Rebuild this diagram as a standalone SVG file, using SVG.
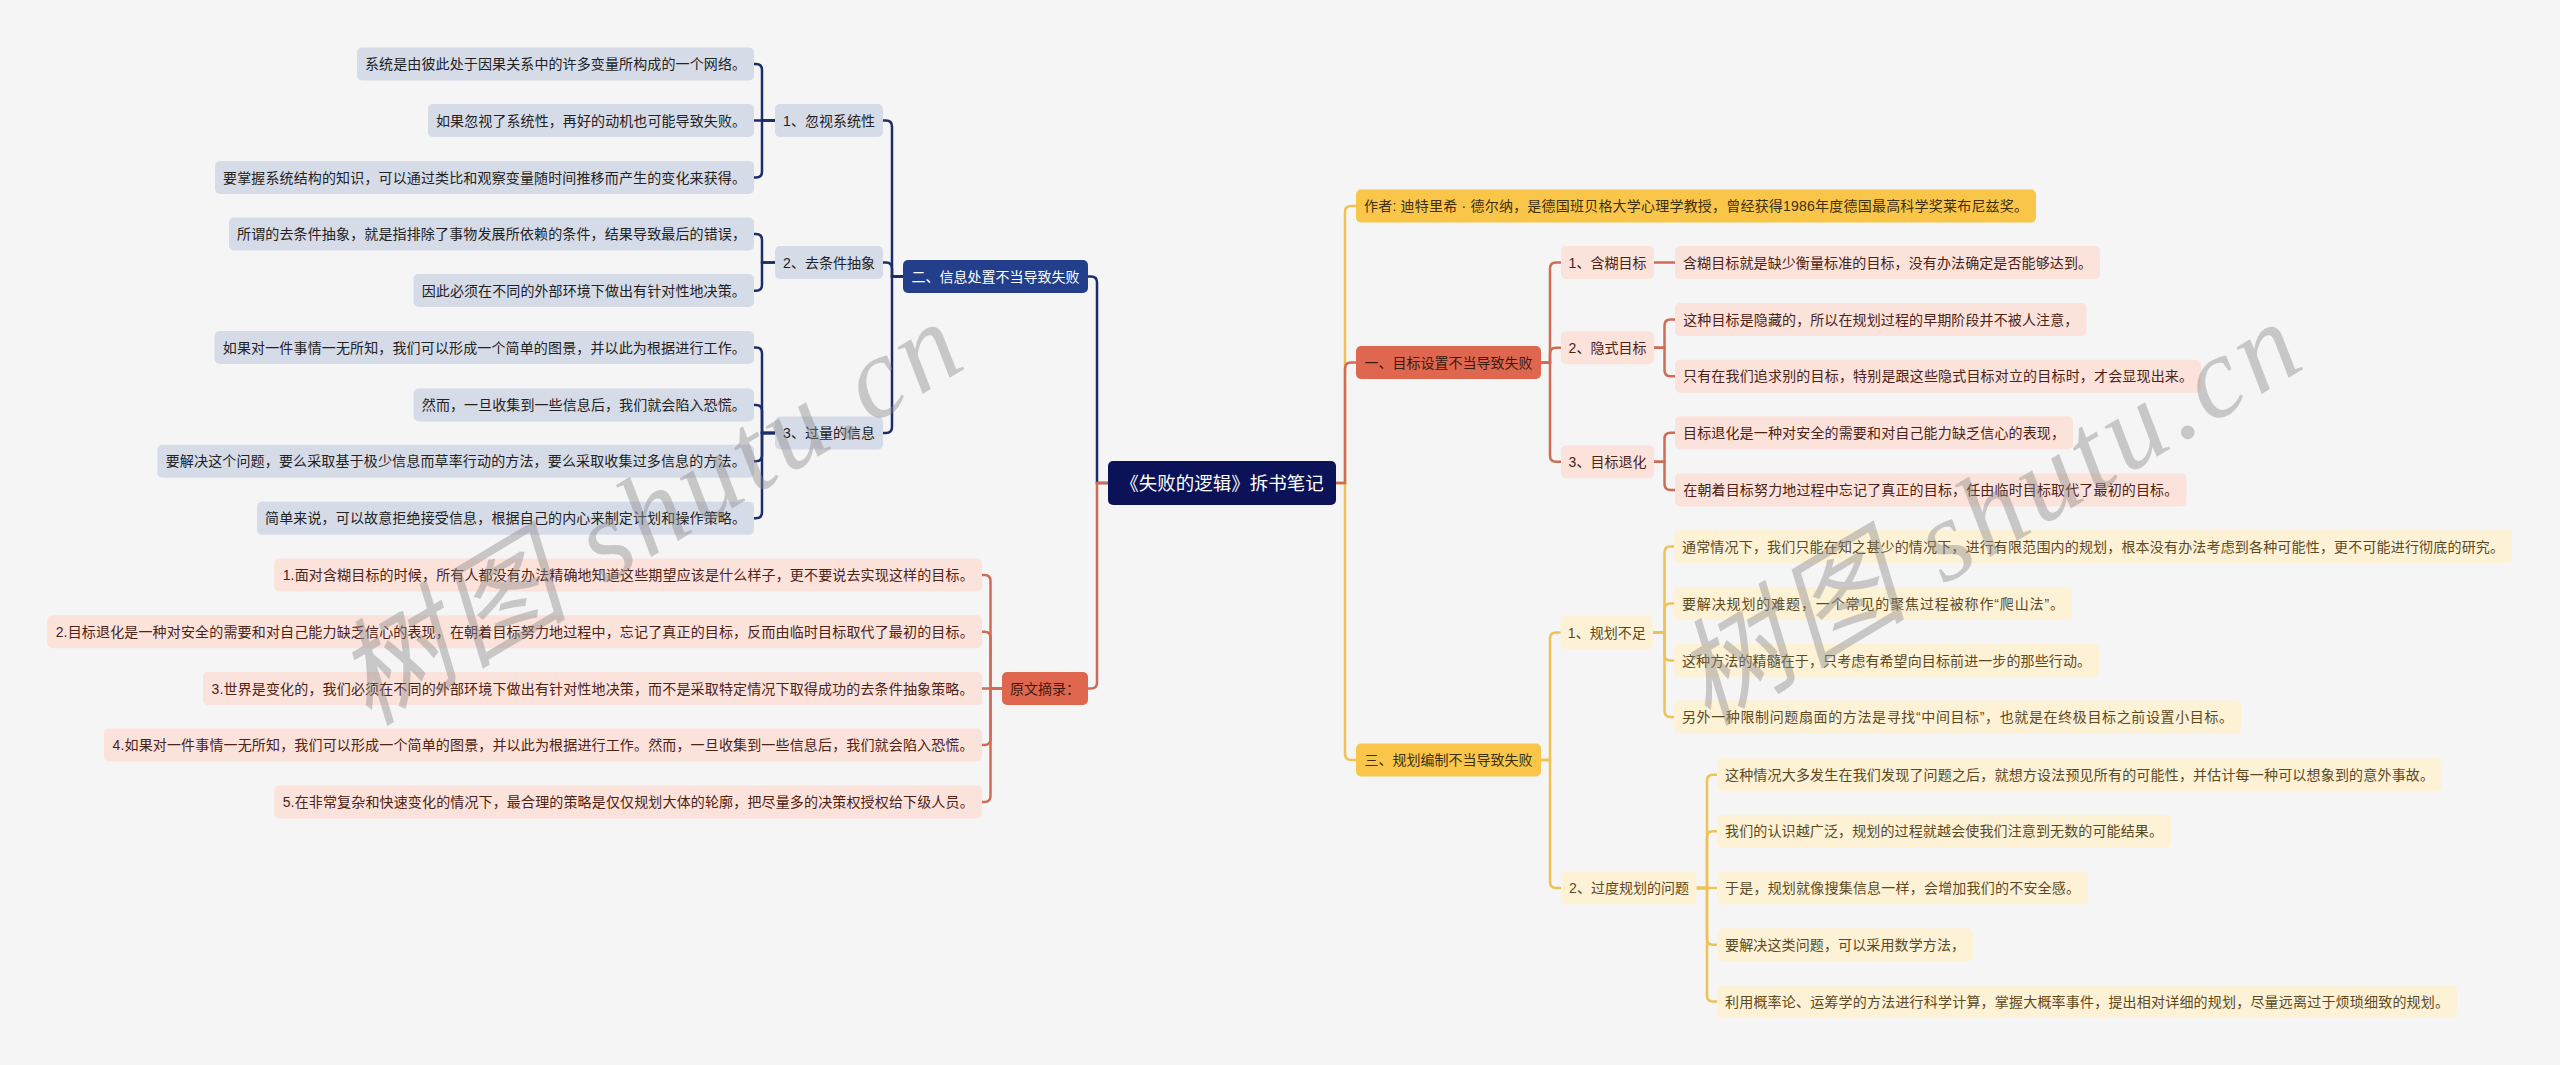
<svg xmlns="http://www.w3.org/2000/svg" width="2560" height="1065" viewBox="0 0 2560 1065">
<style>
text{font-family:"Liberation Sans","Noto Sans CJK SC",sans-serif;font-size:14px;text-anchor:middle}
.root rect{fill:#0c1258}.root text{fill:#fff;font-size:18.5px}
.b1 rect{fill:#233f8c}.b1 text{fill:#fff}
.b2 rect{fill:#d6dbe8}.b2 text{fill:#222}
.o1 rect{fill:#e0674f}.o1 text{fill:#3d1a10}
.o2 rect{fill:#fbe2db}.o2 text{fill:#4d2316}
.y1 rect{fill:#fac64a}.y1 text{fill:#3d3010}
.y2 rect{fill:#fdf1d6}.y2 text{fill:#5c4a1e}
#connectors path{fill:none;stroke-width:2.5}
.cb{stroke:#1c2d6b}.co{stroke:#cf6c55}.cy{stroke:#f0c155}
.wm{font-family:"Liberation Serif","Noto Sans CJK SC",serif;font-size:115px;font-style:italic;fill:#8a8a8a;opacity:0.42}
</style>
<rect width="2560" height="1065" fill="#f5f5f5"/>
<g id="connectors">
<path class="cy" d="M1336,483H1345V212Q1345,206 1351,206H1356"/>
<path class="cy" d="M1336,483H1345V754Q1345,760 1351,760H1356"/>
<path class="co" d="M1336,483H1345V368.5Q1345,362.5 1351,362.5H1356"/>
<path class="co" d="M1540,362.5H1550V268.5Q1550,262.5 1556,262.5H1561"/>
<path class="co" d="M1540,362.5H1550V353.8Q1550,347.8 1556,347.8H1561"/>
<path class="co" d="M1540,362.5H1550V455.8Q1550,461.8 1556,461.8H1561"/>
<path class="co" d="M1654,262.5H1675"/>
<path class="co" d="M1654,347.8H1664.5V325.5Q1664.5,319.5 1670.5,319.5H1675"/>
<path class="co" d="M1654,347.8H1664.5V370.3Q1664.5,376.3 1670.5,376.3H1675"/>
<path class="co" d="M1654,461.8H1664.5V438.7Q1664.5,432.7 1670.5,432.7H1675"/>
<path class="co" d="M1654,461.8H1664.5V484Q1664.5,490 1670.5,490H1675"/>
<path class="cy" d="M1540,760H1550V638.5Q1550,632.5 1556,632.5H1561"/>
<path class="cy" d="M1540,760H1550V882Q1550,888 1556,888H1561"/>
<path class="cy" d="M1653,632.5H1664.5V552.5Q1664.5,546.5 1670.5,546.5H1674"/>
<path class="cy" d="M1653,632.5H1664.5V609.5Q1664.5,603.5 1670.5,603.5H1674"/>
<path class="cy" d="M1653,632.5H1664.5V654.5Q1664.5,660.5 1670.5,660.5H1674"/>
<path class="cy" d="M1653,632.5H1664.5V711Q1664.5,717 1670.5,717H1674"/>
<path class="cy" d="M1696.5,888H1707V780.7Q1707,774.7 1713,774.7H1717"/>
<path class="cy" d="M1696.5,888H1707V837.3Q1707,831.3 1713,831.3H1717"/>
<path class="cy" d="M1696.5,888H1717"/>
<path class="cy" d="M1696.5,888H1707V938.7Q1707,944.7 1713,944.7H1717"/>
<path class="cy" d="M1696.5,888H1707V995.5Q1707,1001.5 1713,1001.5H1717"/>
<path class="cb" d="M1108,483H1097V282.5Q1097,276.5 1091,276.5H1088"/>
<path class="co" d="M1108,483H1097V682.5Q1097,688.5 1091,688.5H1088"/>
<path class="cb" d="M903,276.5H892V126.5Q892,120.5 886,120.5H883"/>
<path class="cb" d="M903,276.5H892V268.5Q892,262.5 886,262.5H883"/>
<path class="cb" d="M903,276.5H892V427Q892,433 886,433H883"/>
<path class="cb" d="M775,120.5H762V70Q762,64 756,64H754"/>
<path class="cb" d="M775,120.5H754"/>
<path class="cb" d="M775,120.5H762V171.5Q762,177.5 756,177.5H754"/>
<path class="cb" d="M775,262.5H762V240Q762,234 756,234H754"/>
<path class="cb" d="M775,262.5H762V284.7Q762,290.7 756,290.7H754"/>
<path class="cb" d="M775,433H762V353.5Q762,347.5 756,347.5H754"/>
<path class="cb" d="M775,433H762V411Q762,405 756,405H754"/>
<path class="cb" d="M775,433H762V455.3Q762,461.3 756,461.3H754"/>
<path class="cb" d="M775,433H762V512.3Q762,518.3 756,518.3H754"/>
<path class="co" d="M1002,688.5H990.5V581Q990.5,575 984.5,575H982"/>
<path class="co" d="M1002,688.5H990.5V637.7Q990.5,631.7 984.5,631.7H982"/>
<path class="co" d="M1002,688.5H982"/>
<path class="co" d="M1002,688.5H990.5V739Q990.5,745 984.5,745H982"/>
<path class="co" d="M1002,688.5H990.5V796Q990.5,802 984.5,802H982"/>
</g>
<g id="root" class="root"><rect x="1108" y="461" width="228" height="44" rx="5"/><text x="1222" y="489.5">《失败的逻辑》拆书笔记</text></g>
<g id="n-info" class="b1"><rect x="903" y="260" width="185" height="33" rx="5"/><text x="995.5" y="281.5">二、信息处置不当导致失败</text></g>
<g id="n-info-1" class="b2"><rect x="775" y="104" width="108" height="33" rx="5"/><text x="829" y="125.5">1、忽视系统性</text></g>
<g id="n-info-1a" class="b2"><rect x="357" y="47.5" width="397" height="33" rx="5"/><text x="555.5" y="69" textLength="381">系统是由彼此处于因果关系中的许多变量所构成的一个网络。</text></g>
<g id="n-info-1b" class="b2"><rect x="428" y="104" width="326" height="33" rx="5"/><text x="591" y="125.5" textLength="310">如果忽视了系统性，再好的动机也可能导致失败。</text></g>
<g id="n-info-1c" class="b2"><rect x="215" y="161" width="539" height="33" rx="5"/><text x="484.5" y="182.5" textLength="523">要掌握系统结构的知识，可以通过类比和观察变量随时间推移而产生的变化来获得。</text></g>
<g id="n-info-2" class="b2"><rect x="775" y="246" width="108" height="33" rx="5"/><text x="829" y="267.5">2、去条件抽象</text></g>
<g id="n-info-2a" class="b2"><rect x="229" y="217.5" width="525" height="33" rx="5"/><text x="491.5" y="239" textLength="509">所谓的去条件抽象，就是指排除了事物发展所依赖的条件，结果导致最后的错误，</text></g>
<g id="n-info-2b" class="b2"><rect x="413.5" y="274" width="340.5" height="33" rx="5"/><text x="583.75" y="295.5" textLength="324">因此必须在不同的外部环境下做出有针对性地决策。</text></g>
<g id="n-info-3" class="b2"><rect x="775" y="416.5" width="108" height="33" rx="5"/><text x="829" y="438">3、过量的信息</text></g>
<g id="n-info-3a" class="b2"><rect x="214.6" y="331" width="539.4" height="33" rx="5"/><text x="484.3" y="352.5" textLength="523">如果对一件事情一无所知，我们可以形成一个简单的图景，并以此为根据进行工作。</text></g>
<g id="n-info-3b" class="b2"><rect x="413.6" y="388.5" width="340.4" height="33" rx="5"/><text x="583.8" y="410" textLength="324">然而，一旦收集到一些信息后，我们就会陷入恐慌。</text></g>
<g id="n-info-3c" class="b2"><rect x="157.4" y="444.8" width="596.6" height="33" rx="5"/><text x="455.7" y="466.3" textLength="580">要解决这个问题，要么采取基于极少信息而草率行动的方法，要么采取收集过多信息的方法。</text></g>
<g id="n-info-3d" class="b2"><rect x="257" y="501.8" width="497" height="33" rx="5"/><text x="505.5" y="523.3" textLength="481">简单来说，可以故意拒绝接受信息，根据自己的内心来制定计划和操作策略。</text></g>
<g id="n-quote" class="o1"><rect x="1002" y="672" width="86" height="33" rx="5"/><text x="1045" y="693.5">原文摘录：</text></g>
<g id="n-quote-1" class="o2"><rect x="274.3" y="558.5" width="707.7" height="33" rx="5"/><text x="628.15" y="580" textLength="691">1.面对含糊目标的时候，所有人都没有办法精确地知道这些期望应该是什么样子，更不要说去实现这样的目标。</text></g>
<g id="n-quote-2" class="o2"><rect x="47.3" y="615.2" width="934.7" height="33" rx="5"/><text x="514.65" y="636.7" textLength="918">2.目标退化是一种对安全的需要和对自己能力缺乏信心的表现，在朝着目标努力地过程中，忘记了真正的目标，反而由临时目标取代了最初的目标。</text></g>
<g id="n-quote-3" class="o2"><rect x="203" y="672" width="779" height="33" rx="5"/><text x="592.5" y="693.5" textLength="762">3.世界是变化的，我们必须在不同的外部环境下做出有针对性地决策，而不是采取特定情况下取得成功的去条件抽象策略。</text></g>
<g id="n-quote-4" class="o2"><rect x="104" y="728.5" width="878" height="33" rx="5"/><text x="543" y="750" textLength="861">4.如果对一件事情一无所知，我们可以形成一个简单的图景，并以此为根据进行工作。然而，一旦收集到一些信息后，我们就会陷入恐慌。</text></g>
<g id="n-quote-5" class="o2"><rect x="274.3" y="785.5" width="707.7" height="33" rx="5"/><text x="628.15" y="807" textLength="691">5.在非常复杂和快速变化的情况下，最合理的策略是仅仅规划大体的轮廓，把尽量多的决策权授权给下级人员。</text></g>
<g id="n-author" class="y1"><rect x="1356" y="189.5" width="680" height="33" rx="5"/><text x="1696" y="211" textLength="664">作者: 迪特里希 · 德尔纳，是德国班贝格大学心理学教授，曾经获得1986年度德国最高科学奖莱布尼兹奖。</text></g>
<g id="n-goal" class="o1"><rect x="1356" y="346" width="185" height="33" rx="5"/><text x="1448.5" y="367.5">一、目标设置不当导致失败</text></g>
<g id="n-goal-1" class="o2"><rect x="1561" y="246" width="93" height="33" rx="5"/><text x="1607.5" y="267.5">1、含糊目标</text></g>
<g id="n-goal-1a" class="o2"><rect x="1675" y="246" width="425" height="33" rx="5"/><text x="1887.5" y="267.5" textLength="409">含糊目标就是缺少衡量标准的目标，没有办法确定是否能够达到。</text></g>
<g id="n-goal-2" class="o2"><rect x="1561" y="331.3" width="93" height="33" rx="5"/><text x="1607.5" y="352.8">2、隐式目标</text></g>
<g id="n-goal-2a" class="o2"><rect x="1675" y="303" width="411.5" height="33" rx="5"/><text x="1880.75" y="324.5" textLength="395">这种目标是隐藏的，所以在规划过程的早期阶段并不被人注意，</text></g>
<g id="n-goal-2b" class="o2"><rect x="1675" y="359.8" width="526" height="33" rx="5"/><text x="1938" y="381.3" textLength="510">只有在我们追求别的目标，特别是跟这些隐式目标对立的目标时，才会显现出来。</text></g>
<g id="n-goal-3" class="o2"><rect x="1561" y="445.3" width="93" height="33" rx="5"/><text x="1607.5" y="466.8">3、目标退化</text></g>
<g id="n-goal-3a" class="o2"><rect x="1675" y="416.2" width="398" height="33" rx="5"/><text x="1874" y="437.7" textLength="382">目标退化是一种对安全的需要和对自己能力缺乏信心的表现，</text></g>
<g id="n-goal-3b" class="o2"><rect x="1675" y="473.5" width="511.5" height="33" rx="5"/><text x="1930.75" y="495" textLength="495">在朝着目标努力地过程中忘记了真正的目标，任由临时目标取代了最初的目标。</text></g>
<g id="n-plan" class="y1"><rect x="1356" y="743.5" width="185" height="33" rx="5"/><text x="1448.5" y="765">三、规划编制不当导致失败</text></g>
<g id="n-plan-1" class="y2"><rect x="1560.5" y="616" width="92.5" height="33" rx="5"/><text x="1606.75" y="637.5">1、规划不足</text></g>
<g id="n-plan-1a" class="y2"><rect x="1674" y="530" width="838" height="33" rx="5"/><text x="2093" y="551.5" textLength="822">通常情况下，我们只能在知之甚少的情况下，进行有限范围内的规划，根本没有办法考虑到各种可能性，更不可能进行彻底的研究。</text></g>
<g id="n-plan-1b" class="y2"><rect x="1674" y="587" width="398" height="33" rx="5"/><text x="1873" y="608.5" textLength="382">要解决规划的难题，一个常见的聚焦过程被称作“爬山法”。</text></g>
<g id="n-plan-1c" class="y2"><rect x="1674" y="644" width="425" height="33" rx="5"/><text x="1886.5" y="665.5" textLength="409">这种方法的精髓在于，只考虑有希望向目标前进一步的那些行动。</text></g>
<g id="n-plan-1d" class="y2"><rect x="1674" y="700.5" width="567" height="33" rx="5"/><text x="1957.5" y="722" textLength="551">另外一种限制问题扇面的方法是寻找“中间目标”，也就是在终极目标之前设置小目标。</text></g>
<g id="n-plan-2" class="y2"><rect x="1561.5" y="871.5" width="135" height="33" rx="5"/><text x="1629" y="893">2、过度规划的问题</text></g>
<g id="n-plan-2a" class="y2"><rect x="1717" y="758.2" width="725" height="33" rx="5"/><text x="2079.5" y="779.7" textLength="709">这种情况大多发生在我们发现了问题之后，就想方设法预见所有的可能性，并估计每一种可以想象到的意外事故。</text></g>
<g id="n-plan-2b" class="y2"><rect x="1717" y="814.8" width="454" height="33" rx="5"/><text x="1944" y="836.3" textLength="438">我们的认识越广泛，规划的过程就越会使我们注意到无数的可能结果。</text></g>
<g id="n-plan-2c" class="y2"><rect x="1717" y="871.5" width="371" height="33" rx="5"/><text x="1902.5" y="893" textLength="355">于是，规划就像搜集信息一样，会增加我们的不安全感。</text></g>
<g id="n-plan-2d" class="y2"><rect x="1717" y="928.2" width="256" height="33" rx="5"/><text x="1845" y="949.7" textLength="240">要解决这类问题，可以采用数学方法，</text></g>
<g id="n-plan-2e" class="y2"><rect x="1717" y="985" width="740" height="33" rx="5"/><text x="2087" y="1006.5" textLength="724">利用概率论、运筹学的方法进行科学计算，掌握大概率事件，提出相对详细的规划，尽量远离过于烦琐细致的规划。</text></g>
<text class="wm" x="649" y="552" transform="rotate(-31 649 514)" textLength="700">树图 shutu.cn</text>
<text class="wm" x="1988" y="552" transform="rotate(-31 1988 514)" textLength="700">树图 shutu.cn</text>
</svg>
